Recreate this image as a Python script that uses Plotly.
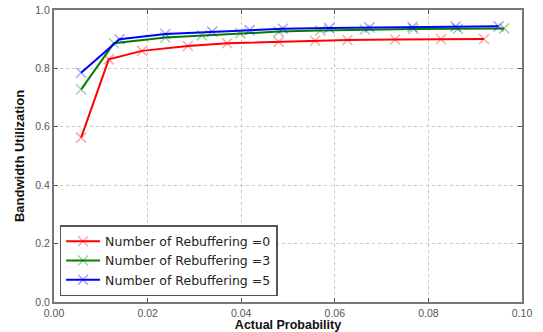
import plotly.graph_objects as go

x_r0 = [0.0058, 0.0117, 0.0188, 0.0286, 0.0370, 0.0480, 0.0558, 0.0627, 0.0729, 0.0827, 0.0919]
y_r0 = [0.563, 0.831, 0.860, 0.877, 0.886, 0.891, 0.895, 0.897, 0.899, 0.900, 0.901]

x_r3 = [0.0058, 0.0128, 0.0238, 0.0316, 0.0398, 0.0480, 0.0569, 0.0664, 0.0768, 0.0863, 0.0962]
y_r3 = [0.728, 0.886, 0.906, 0.913, 0.920, 0.926, 0.930, 0.933, 0.935, 0.936, 0.937]

x_r5 = [0.0058, 0.0140, 0.0238, 0.0338, 0.0418, 0.0489, 0.0588, 0.0674, 0.0766, 0.0858, 0.0950]
y_r5 = [0.785, 0.900, 0.918, 0.926, 0.931, 0.936, 0.938, 0.940, 0.942, 0.943, 0.944]

names = ["Number of Rebuffering =0", "Number of Rebuffering =3", "Number of Rebuffering =5"]
colors = ["#ff0000", "#008000", "#0000ff"]
mcolors = ["rgba(255,0,0,0.35)", "rgba(0,128,0,0.35)", "rgba(0,0,255,0.35)"]

x_ticks = [0.00, 0.02, 0.04, 0.06, 0.08, 0.10]
y_ticks = [0.0, 0.2, 0.4, 0.6, 0.8, 1.0]

fig = go.Figure()
for xs, ys, n, c, mc in zip([x_r0, x_r3, x_r5], [y_r0, y_r3, y_r5], names, colors, mcolors):
    fig.add_trace(go.Scatter(
        x=xs, y=ys, name=n, mode="lines+markers",
        line=dict(color=c, width=2),
        marker=dict(symbol="x-thin", size=10, line=dict(color=mc, width=1.5), color=mc),
    ))

axis_common = dict(
    showline=True, linecolor="#777777", linewidth=2, mirror="allticks",
    ticks="inside", ticklen=4, tickcolor="#555555",
    showgrid=True, gridcolor="#c8c8c8", griddash="dot", gridwidth=1,
    zeroline=False, automargin=False,
    tickfont=dict(family="Liberation Sans, Arial", size=10.5, color="#555555"),
)

fig.update_xaxes(range=[0, 0.1], tickvals=x_ticks, ticktext=[f"{v:.2f}" for v in x_ticks],
                 title=dict(text="<b>Actual Probability</b>", standoff=4,
                            font=dict(family="Liberation Sans, Arial", size=12.5, color="#111111")),
                 **axis_common)
fig.update_yaxes(range=[0, 1.0], tickvals=y_ticks, ticktext=[f"{v:.1f}" for v in y_ticks],
                 title=dict(text="<b>Bandwidth Utilization</b>", standoff=8,
                            font=dict(family="Liberation Sans, Arial", size=13, color="#111111")),
                 **axis_common)

fig.update_layout(
    width=543, height=332,
    margin=dict(l=54, r=21, t=10, b=30),
    paper_bgcolor="white", plot_bgcolor="white",
    showlegend=True,
    legend=dict(x=0.012, y=0.02, xanchor="left", yanchor="bottom",
                bgcolor="white", bordercolor="#555555", borderwidth=1.5,
                font=dict(family="DejaVu Sans, Liberation Sans", size=12.5, color="#222222"),
                tracegroupgap=0, itemwidth=34),
)

fig.write_html("out.html")
